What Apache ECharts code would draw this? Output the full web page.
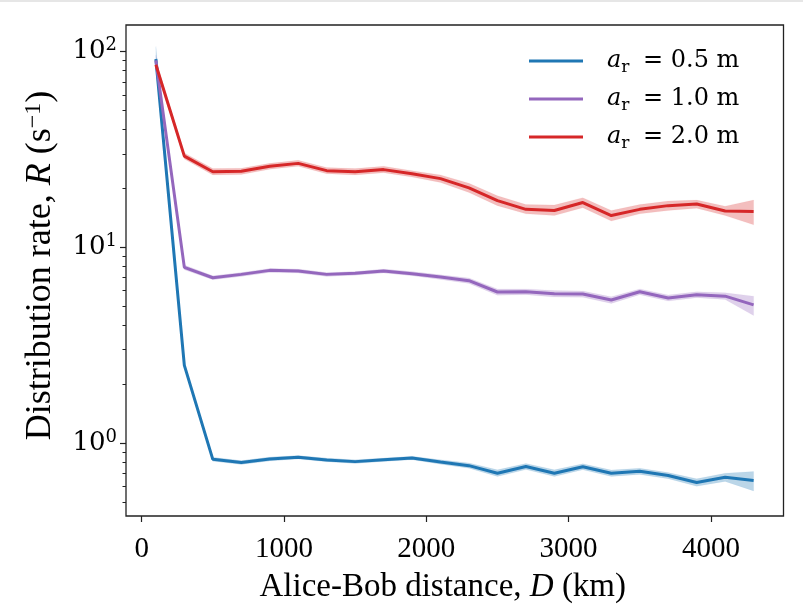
<!DOCTYPE html>
<html><head><meta charset="utf-8">
<script src="https://cdn.jsdelivr.net/npm/echarts@6/dist/echarts.min.js"></script>
<style>html,body{margin:0;padding:0;background:#fff}#c{width:803px;height:609px}#strip{position:absolute;left:0;top:0;width:803px;height:2px;background:#e6e6e6}</style>
</head><body><div id="c"></div><div id="strip"></div>
<script>
// ---- data ----
const distances = [100,300,500,700,900,1100,1300,1500,1700,1900,2100,2300,2500,2700,2900,3100,3300,3500,3700,3900,4100,4300];

const blueMean  = [91.5,2.49,0.824,0.793,0.827,0.844,0.818,0.802,0.82,0.837,0.799,0.765,0.70,0.757,0.70,0.755,0.70,0.716,0.681,0.627,0.667,0.642];
const blueUpper = [106,2.57,0.845,0.812,0.846,0.862,0.836,0.82,0.838,0.855,0.82,0.79,0.728,0.785,0.728,0.782,0.726,0.742,0.705,0.655,0.70,0.714];
const blueLower = [80,2.42,0.805,0.775,0.808,0.826,0.80,0.784,0.802,0.819,0.778,0.742,0.673,0.73,0.673,0.728,0.674,0.69,0.656,0.60,0.635,0.568];

const purpleMean  = [90,7.88,6.98,7.26,7.61,7.55,7.26,7.35,7.55,7.32,7.03,6.74,5.90,5.92,5.78,5.76,5.37,5.92,5.50,5.72,5.62,5.07];
const purpleUpper = [96,8.1,7.15,7.43,7.79,7.73,7.43,7.52,7.73,7.5,7.22,6.95,6.12,6.12,6.0,5.97,5.58,6.12,5.7,5.92,5.85,5.62];
const purpleLower = [84,7.66,6.82,7.09,7.43,7.37,7.09,7.18,7.37,7.14,6.84,6.53,5.68,5.72,5.56,5.55,5.16,5.72,5.3,5.52,5.4,4.47];

const redMean  = [85.5,29.2,24.3,24.4,25.9,26.8,24.6,24.3,24.9,23.7,22.4,20.1,17.3,15.6,15.4,16.9,14.5,15.6,16.3,16.6,15.3,15.2];
const redUpper = [90,30.3,25.2,25.3,26.8,27.8,25.5,25.2,25.9,24.6,23.4,21.2,18.3,16.5,16.4,17.9,15.4,16.5,17.2,17.4,16.2,17.4];
const redLower = [81,28.2,23.4,23.5,25.0,25.9,23.7,23.4,24.0,22.8,21.4,19.0,16.3,14.8,14.5,15.9,13.6,14.8,15.4,15.8,14.5,13.0];

const seriesNames = ['0.5', '1.0', '2.0'];
const xTicks = [0, 1000, 2000, 3000, 4000];
const yMajorTicks = [1, 10, 100];
const xRange = [-110, 4510];
const yRange = [0.423, 136.5];

// ---- build ----
const colors = ['#1f77b4', '#9467bd', '#d62728'];
const groups = [
  [blueMean, blueUpper, blueLower],
  [purpleMean, purpleUpper, purpleLower],
  [redMean, redUpper, redLower]
];
const pair = arr => arr.map((v, i) => [distances[i], v]);

const minorTicks = [];
for (let e = -1; e <= 2; e++) {
  for (let k = 2; k <= 9; k++) {
    const v = k * Math.pow(10, e);
    if (v >= yRange[0] && v <= yRange[1]) minorTicks.push(Math.log10(v));
  }
}

const series = [];
groups.forEach((g, gi) => {
  const [mean, up, lo] = g;
  const rows = distances.map((d, i) => [d, lo[i], up[i]]);
  series.push({
    type: 'custom', silent: true, z: 1,
    data: rows,
    encode: { x: 0, y: [1, 2] },
    renderItem: (params, api) => {
      if (params.dataIndex !== 0) return null;
      const top = rows.map(r => api.coord([r[0], r[2]]));
      const bot = rows.map(r => api.coord([r[0], r[1]])).reverse();
      return {
        type: 'polygon',
        shape: { points: top.concat(bot) },
        style: { fill: colors[gi], opacity: 0.3, stroke: colors[gi], lineWidth: 0.5, strokeOpacity: 0.3 }
      };
    }
  });
});
groups.forEach((g, gi) => {
  series.push({
    name: seriesNames[gi], type: 'line', data: pair(g[0]), symbol: 'none',
    lineStyle: { color: colors[gi], width: 3 }, itemStyle: { color: colors[gi] }, z: 3
  });
});

const serif = 'Liberation Serif';
const chart = echarts.init(document.getElementById('c'), null, { renderer: 'canvas' });
chart.setOption({
  animation: false,
  backgroundColor: '#fff',
  grid: { left: 126, right: 19.5, top: 25, bottom: 91, show: true, borderColor: '#222', borderWidth: 1.3, backgroundColor: 'transparent' },
  legend: {
    data: seriesNames, orient: 'vertical', left: 529, top: 46, padding: 0, itemGap: 8,
    icon: 'rect', itemWidth: 54, itemHeight: 3,
    formatter: n => '{a|a}{r|r}{t| = ' + n + ' m}',
    textStyle: {
      padding: [0, 0, 0, 19], lineHeight: 30,
      rich: {
        a: { fontFamily: 'DejaVu Serif', fontStyle: 'italic', fontSize: 24, lineHeight: 30, color: '#000' },
        r: { fontFamily: 'DejaVu Serif', fontSize: 17, lineHeight: 16, verticalAlign: 'bottom', color: '#000', padding: [0, 6, 0, 0] },
        t: { fontFamily: 'DejaVu Serif', fontSize: 24, lineHeight: 30, color: '#000' }
      }
    }
  },
  xAxis: {
    type: 'value', min: xRange[0], max: xRange[1],
    axisLine: { show: false, onZero: false }, splitLine: { show: false },
    axisTick: { show: true, length: 6, customValues: xTicks, lineStyle: { color: '#222', width: 1.2 } },
    axisLabel: { customValues: xTicks, formatter: v => String(v), fontFamily: serif, fontSize: 29, color: '#000', margin: 19 },
    name: '{n|Alice-Bob distance, }{i|D}{n| (km)}', nameLocation: 'middle', nameGap: 55,
    nameTextStyle: {
      padding: [0, 24, 0, 0],
      rich: {
        n: { fontFamily: serif, fontSize: 33, color: '#000' },
        i: { fontFamily: serif, fontSize: 33, fontStyle: 'italic', color: '#000' }
      }
    }
  },
  yAxis: [
    {
      type: 'log', logBase: 10, min: yRange[0], max: yRange[1],
      axisLine: { show: false, onZero: false }, axisTick: { show: false }, axisLabel: { show: false }, splitLine: { show: false }
    },
    {
      type: 'value', position: 'left', min: Math.log10(yRange[0]), max: Math.log10(yRange[1]),
      axisLine: { show: false, onZero: false }, splitLine: { show: false },
      axisTick: { show: true, length: 6, customValues: yMajorTicks.map(Math.log10), lineStyle: { color: '#222', width: 1.2 } },
      axisLabel: {
        customValues: yMajorTicks.map(Math.log10), margin: 9,
        formatter: v => '{b|10}{s|' + Math.round(v) + '}',
        rich: {
          b: { fontFamily: 'DejaVu Serif', fontSize: 26, lineHeight: 30, color: '#000' },
          s: { fontFamily: 'DejaVu Serif', fontSize: 18, lineHeight: 18, verticalAlign: 'top', color: '#000' }
        }
      },
      name: '{n|Distribution rate, }{i|R}{n| (s}{p|\u22121}{n|)}', nameLocation: 'middle', nameRotate: 90, nameGap: 66,
      nameTextStyle: {
        padding: [0, 0, 0, 10],
        rich: {
          n: { fontFamily: serif, fontSize: 36, lineHeight: 38, color: '#000' },
          i: { fontFamily: serif, fontSize: 36, lineHeight: 38, fontStyle: 'italic', color: '#000' },
          p: { fontFamily: serif, fontSize: 24, lineHeight: 24, verticalAlign: 'top', color: '#000' }
        }
      }
    },
    {
      type: 'value', position: 'left', min: Math.log10(yRange[0]), max: Math.log10(yRange[1]),
      axisLine: { show: false, onZero: false }, splitLine: { show: false }, axisLabel: { show: false },
      axisTick: { show: true, length: 3.5, customValues: minorTicks, lineStyle: { color: '#222', width: 1 } }
    }
  ],
  series: series
});
</script>
</body></html>
